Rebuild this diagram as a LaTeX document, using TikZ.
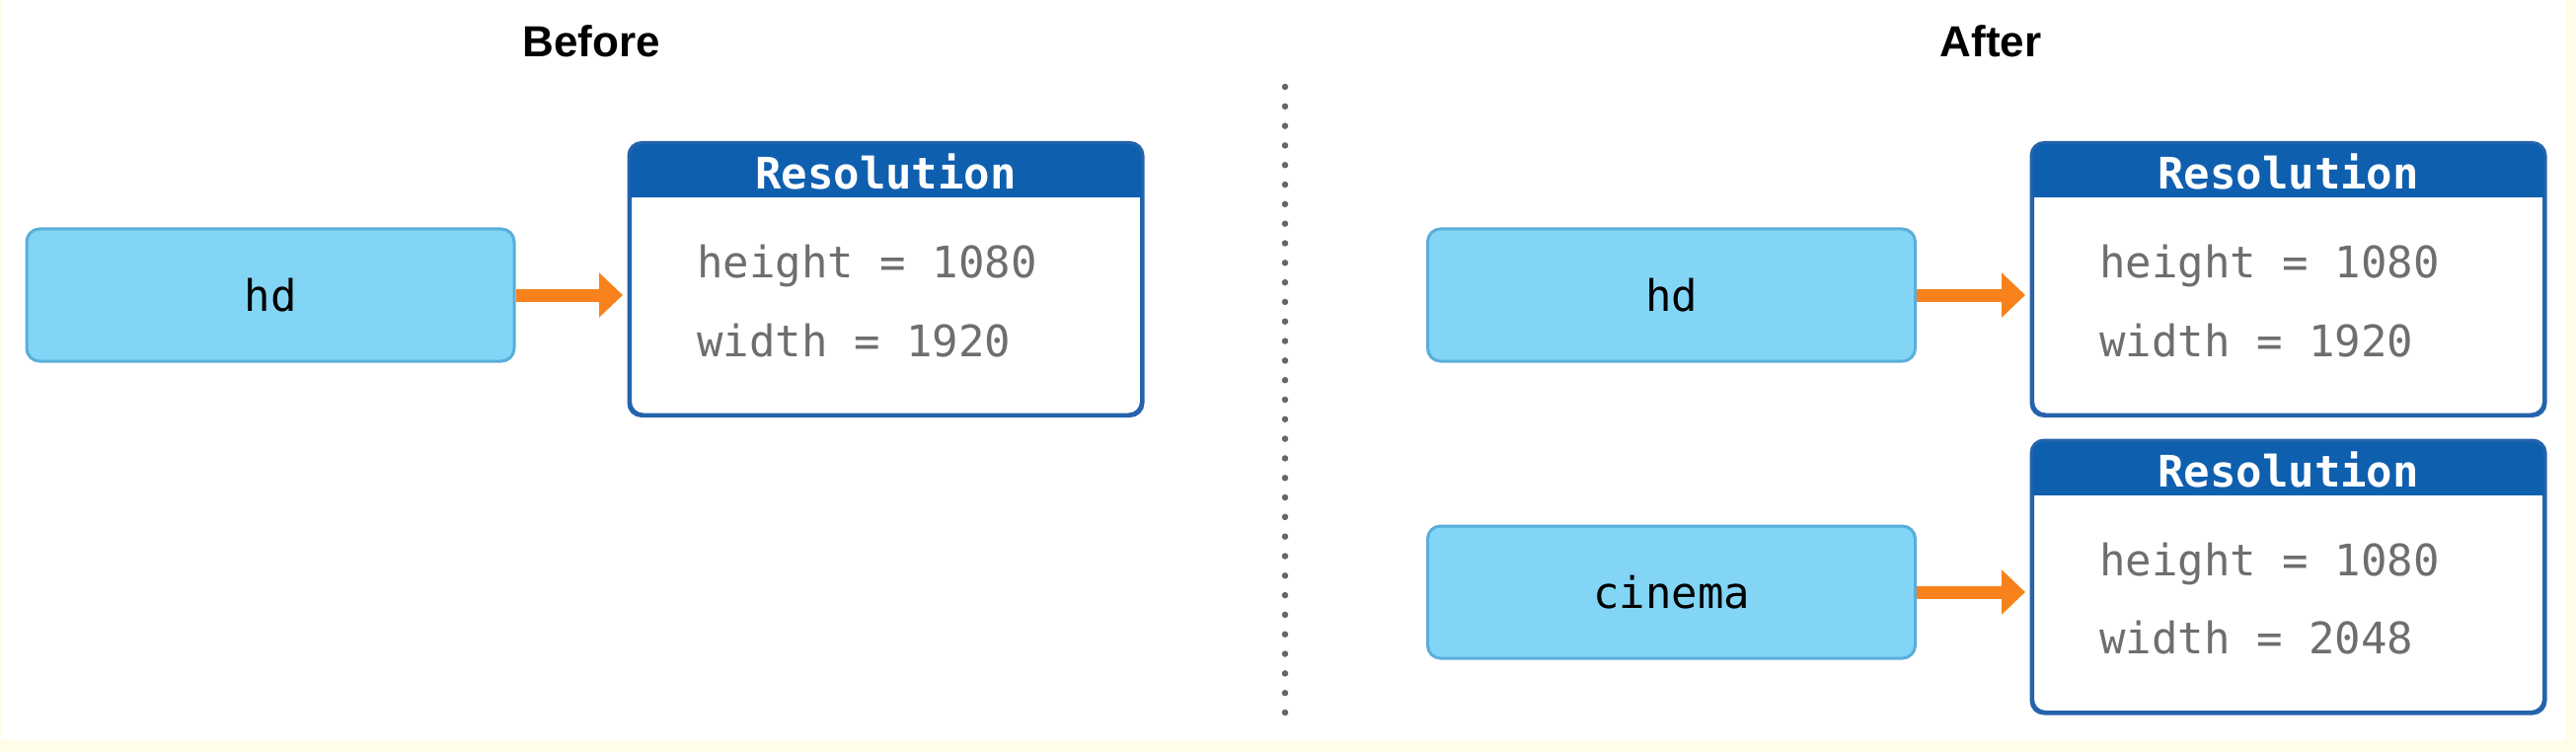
\documentclass[tikz,border=0pt]{standalone}
\usepackage{fontspec}
\setmainfont{Liberation Sans}
\setmonofont{DejaVu Sans Mono}
\usetikzlibrary{arrows.meta}
\definecolor{bgyellow}{HTML}{FFFDE8}
\definecolor{hdrblue}{HTML}{0F5FAF}
\definecolor{boxblue}{HTML}{2563AD}
\definecolor{valfill}{HTML}{82D5F5}
\definecolor{valdraw}{HTML}{5AAEDA}
\definecolor{arrorange}{HTML}{F7821B}
\definecolor{txtgrey}{HTML}{6E6E6E}
\definecolor{dotgrey}{HTML}{666666}
\tikzset{
  valbox/.style={draw=valdraw, fill=valfill, line width=3pt, rounded corners=13pt,
    minimum width=494pt, minimum height=134pt, inner sep=0pt,
    font=\ttfamily\fontsize{44}{50}\selectfont, text=black},
  resbox/.style={draw=boxblue, fill=white, line width=3pt, rounded corners=13pt,
    minimum width=518pt, minimum height=274pt, inner sep=0pt},
  hdrtext/.style={font=\ttfamily\bfseries\fontsize{44}{50}\selectfont, text=white, inner sep=0pt},
  fieldtext/.style={font=\ttfamily\fontsize{44}{50}\selectfont, text=txtgrey, anchor=west, inner sep=0pt},
  title/.style={font=\bfseries\fontsize{44}{50}\selectfont, text=black, anchor=base, inner sep=0pt},
  arr/.style={draw=arrorange, line width=13pt, -{Triangle[length=24pt,width=44pt]}, shorten >=6pt},
  divider/.style={draw=dotgrey, line width=6.5pt, line cap=round, dash pattern=on 0pt off 19.8125pt}
}
\newcommand{\resheader}[1]{%
  \begin{scope}
    \clip[rounded corners=13pt] (#1.south west) rectangle (#1.north east);
    \fill[hdrblue] (#1.north west) rectangle ([yshift=-56pt]#1.north east);
  \end{scope}
  \draw[boxblue, line width=3pt, rounded corners=13pt] (#1.south west) rectangle (#1.north east);
}
\begin{document}
\begin{tikzpicture}[x=1pt, y=-1pt]
\useasboundingbox (0,0) rectangle (2610,762);
\fill[bgyellow] (0,0) rectangle (2610,762);
\fill[white] (2,0) rectangle (2600,750);

% titles
\node[title] (tBefore) at (599,58) {Before};
\node[title] (tAfter) at (2017,58) {After};

% divider
\coordinate (dtop) at (1302,88);
\coordinate (dbot) at (1302,722);
\draw[divider] (dtop) -- (dbot);

% ---- Before ----
\node[valbox] (hdA) at (274,299) {hd};
\node[resbox] (resA) at (897.5,283) {};
\resheader{resA}
\node[hdrtext] (hA) at (897.5,174) {Resolution};
\node[fieldtext] (resAh) at (706,270) {height = 1080};
\node[fieldtext] (resAw) at (706,345) {width = 1920};
\draw[arr] (hdA.east) -- (hdA.east -| resA.west);

% ---- After ----
\node[valbox] (hdB) at (1693.5,299) {hd};
\node[resbox] (resB) at (2318.5,283) {};
\resheader{resB}
\node[hdrtext] (hB) at (2318.5,174) {Resolution};
\node[fieldtext] (resBh) at (2127,270) {height = 1080};
\node[fieldtext] (resBw) at (2127,345) {width = 1920};
\draw[arr] (hdB.east) -- (hdB.east -| resB.west);

\node[valbox] (cinema) at (1693.5,600) {cinema};
\node[resbox] (resC) at (2318.5,584.5) {};
\resheader{resC}
\node[hdrtext] (hC) at (2318.5,476) {Resolution};
\node[fieldtext] (resCh) at (2127,572) {height = 1080};
\node[fieldtext] (resCw) at (2127,646) {width = 2048};
\draw[arr] (cinema.east) -- (cinema.east -| resC.west);
\end{tikzpicture}
\end{document}
